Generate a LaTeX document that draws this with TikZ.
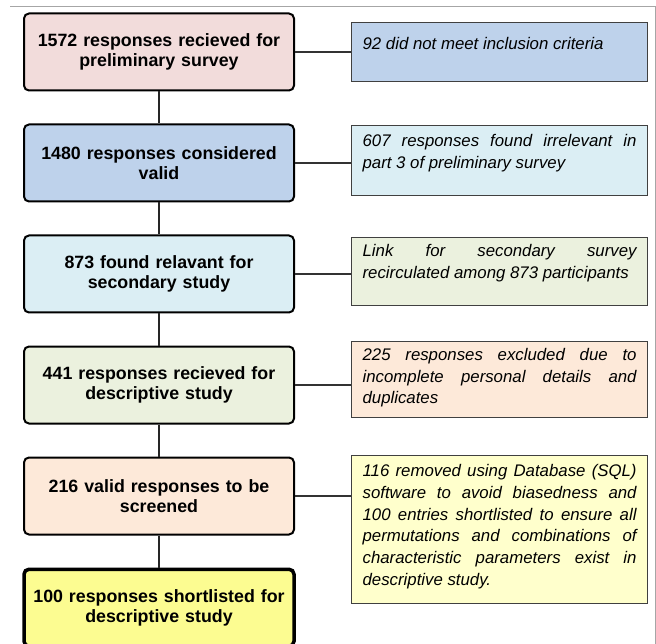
\documentclass[tikz,border=0pt]{standalone}
\usepackage{fontspec}
\setmainfont{Liberation Sans}
\usepackage{xcolor}
\usepackage{tikz}
\usetikzlibrary{positioning}
\definecolor{stagered}{RGB}{242,220,219}
\definecolor{stageblue}{RGB}{190,210,235}
\definecolor{stagecyan}{RGB}{219,238,244}
\definecolor{stagegreen}{RGB}{235,241,222}
\definecolor{stagepeach}{RGB}{253,233,217}
\definecolor{stageyellow}{RGB}{252,252,145}
\definecolor{noteyellow}{RGB}{255,255,204}

\begin{document}
\begin{tikzpicture}[x=1pt,y=1pt,node distance=32pt,
    stage/.style={draw=black,line width=2pt,rounded corners=5pt,
        minimum width=270pt,minimum height=77pt,text width=262pt,align=center,
        font=\bfseries\fontsize{17.8}{19.5}\selectfont},
    note/.style={draw=black!75,line width=1.2pt,anchor=north west,
        text width=274pt,inner xsep=11pt,inner ysep=6pt,text height=15pt,
        align=justify,font=\itshape\fontsize{16.8}{21.7}\selectfont},
    spine/.style={line width=2pt,black!85},
    link/.style={line width=1.2pt,black!80}]
    \useasboundingbox (0,0) rectangle (656,-644);
    % Frame
    \draw[gray!70,line width=1pt] (10,-7) -- (655,-7) -- (655,-644);
    % Main stages
    \node[stage,fill=stagered] (l1) at (159,-52) {1572 responses recieved for\\preliminary survey};
    \node[stage,fill=stageblue,below=of l1] (l2) {1480 responses considered\\valid};
    \node[stage,fill=stagecyan,below=of l2] (l3) {873 found relavant for\\secondary study};
    \node[stage,fill=stagegreen,below=of l3] (l4) {441 responses recieved for\\descriptive study};
    \node[stage,fill=stagepeach,below=of l4] (l5) {216 valid responses to be\\screened};
    \node[stage,fill=stageyellow,line width=3.5pt,below=of l5] (l6) {100 responses shortlisted for\\descriptive study};
    % Side notes
    \node[note,fill=stageblue,text height=21pt,text depth=26pt] (r1) at (351,-22) {92 did not meet inclusion criteria};
    \node[note,fill=stagecyan,text depth=43pt] (r2) at (351,-125) {607 responses found irrelevant in\linebreak part 3 of preliminary survey};
    \node[note,fill=stagegreen,text height=13pt,text depth=43pt] (r3) at (351,-237) {Link for secondary survey\linebreak recirculated among 873 participants};
    \node[note,fill=stagepeach,text height=13pt,text depth=51pt] (r4) at (351,-341) {225 responses excluded due to\linebreak incomplete personal details and\linebreak duplicates};
    \node[note,fill=noteyellow,text depth=121pt] (r5) at (351,-455) {116 removed using Database (SQL)\linebreak software to avoid biasedness and\linebreak 100 entries shortlisted to ensure all\linebreak permutations and combinations of\linebreak characteristic parameters exist in\linebreak descriptive study.};
    % Connectors
    \foreach \a/\b in {l1/l2,l2/l3,l3/l4,l4/l5,l5/l6}
        \draw[spine] (\a.south) -- (\b.north);
    \foreach \i in {1,...,5}
        \draw[link] (l\i.east) -- (l\i.east -| r\i.west);
\end{tikzpicture}
\end{document}
